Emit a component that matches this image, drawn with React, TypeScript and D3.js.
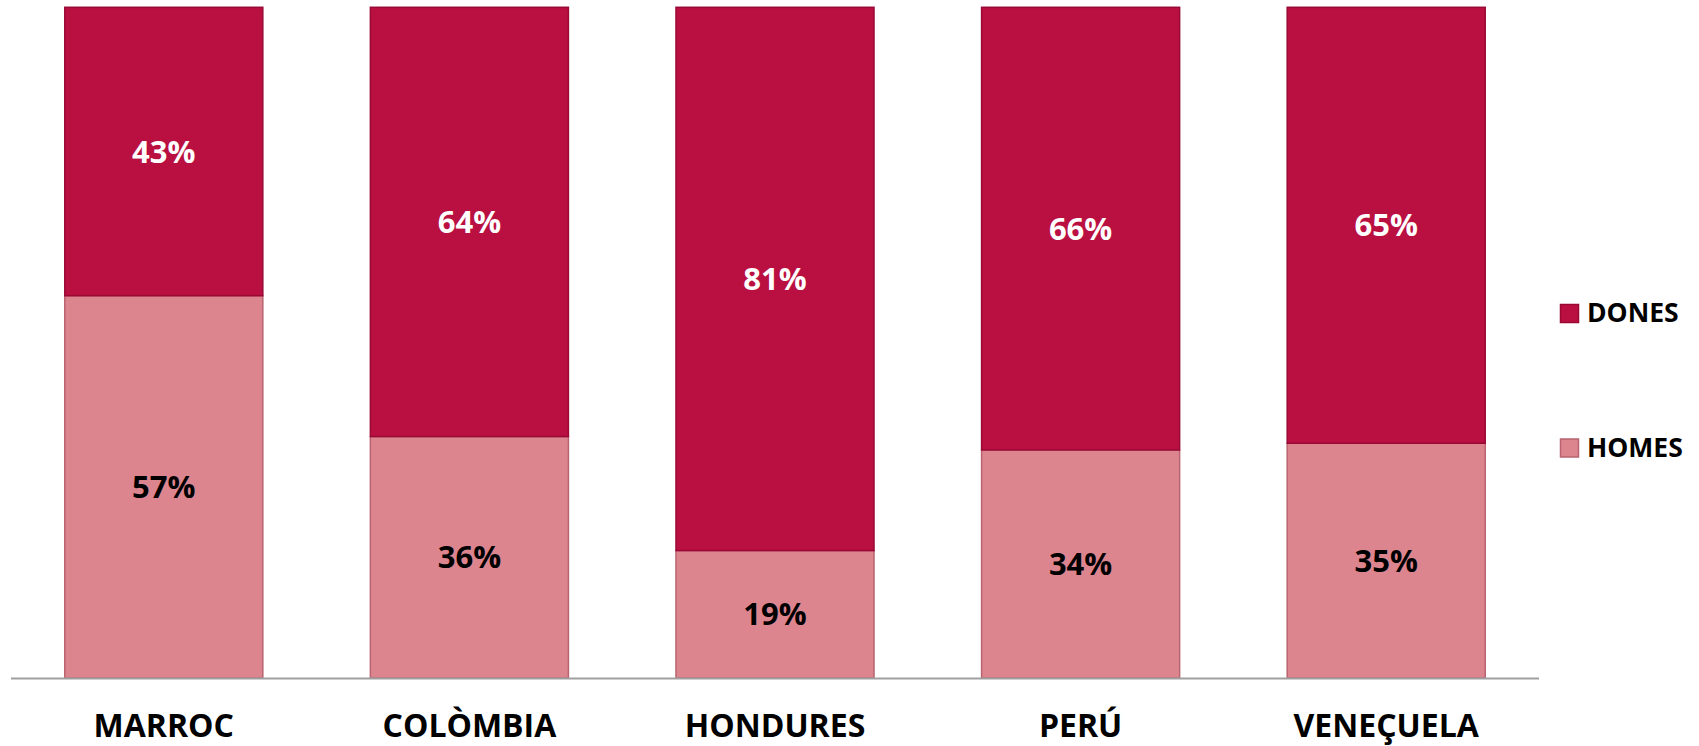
import React from "react";
import * as d3 from "d3";

const categories = ["MARROC", "COLÒMBIA", "HONDURES", "PERÚ", "VENEÇUELA"];
const homes = [57, 36, 19, 34, 35];
const dones = [43, 64, 81, 66, 65];
const seriesNames = ["DONES", "HOMES"];

const W = 1699;
const H = 746;
const FONT = "'Open Sans', 'Liberation Sans', sans-serif";
const C_DONES = "#BA0F41";
const C_DONES_S = "#9A0835";
const C_HOMES = "#DD858F";
const C_HOMES_S = "#B8636F";

export default function App() {
  const x = d3.scaleBand<string>().domain(categories).range([11, 1539]).paddingInner(0.352).paddingOuter(0.176);
  const y = d3.scaleLinear().domain([0, 100]).range([678, 7.3]);
  const rows = categories.map((c, i) => ({ c, homes: homes[i], dones: dones[i] }));
  const stack = d3.stack<any>().keys(["homes", "dones"])(rows);
  const colors: Record<string, [string, string, string]> = {
    homes: [C_HOMES, C_HOMES_S, "#000"],
    dones: [C_DONES, C_DONES_S, "#fff"],
  };
  return (
    <svg width={W} height={H} style={{ position: "absolute", left: 0, top: 0, background: "#fff" }} fontFamily={FONT}>
      {stack.map((s) => (
        <g key={s.key}>
          {s.map((d, i) => {
            const x0 = x(categories[i])!;
            const y0 = y(d[1]);
            const y1 = y(d[0]);
            const v = d[1] - d[0];
            return (
              <g key={i}>
                <rect x={x0} y={y0} width={x.bandwidth()} height={y1 - y0} fill={colors[s.key][0]} stroke={colors[s.key][1]} strokeWidth={1.5} />
                <text x={x0 + x.bandwidth() / 2} y={(y0 + y1) / 2} dy="0.36em" textAnchor="middle" fontSize={31} fontWeight={700} fill={colors[s.key][2]}>
                  {`${v}%`}
                </text>
              </g>
            );
          })}
        </g>
      ))}
      <line x1={11} x2={1539} y1={678.5} y2={678.5} stroke="#A0A0A0" strokeWidth={2} />
      {categories.map((c) => (
        <text key={c} x={x(c)! + x.bandwidth() / 2} y={737} textAnchor="middle" fontSize={32} fontWeight={700} fill="#000">
          {c}
        </text>
      ))}
      {seriesNames.map((n, i) => {
        const yy = 304 + i * 134.5;
        const isD = n === "DONES";
        return (
          <g key={n}>
            <rect x={1560.5} y={yy + 0.5} width={18} height={18} fill={isD ? C_DONES : C_HOMES} stroke={isD ? C_DONES_S : C_HOMES_S} strokeWidth={1.5} />
            <text x={1587} y={yy + 18} fontSize={26.5} fontWeight={700} fill="#000">
              {n}
            </text>
          </g>
        );
      })}
    </svg>
  );
}
